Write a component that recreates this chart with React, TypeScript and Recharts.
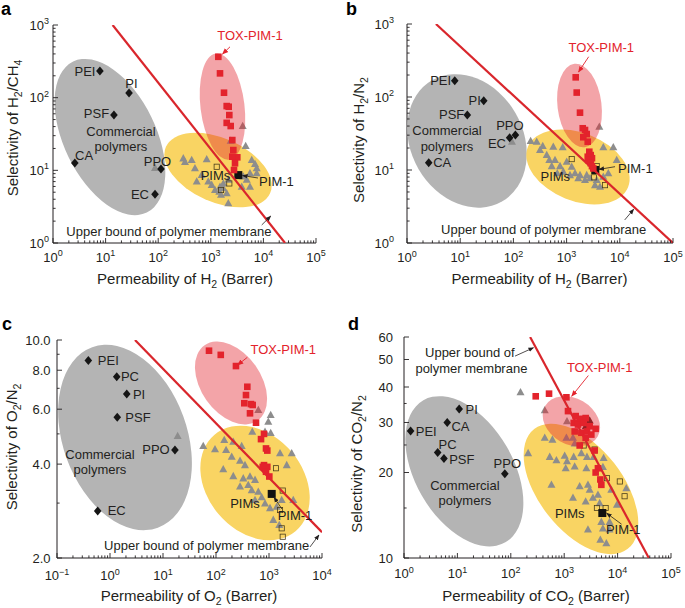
import React from 'react';
import { ScatterChart, Scatter, XAxis, YAxis } from 'recharts';

const INK = '#231f20';
const RED = '#e3232c';
const LINE_RED = '#d9262c';
const TRI_GRAY = '#8d8d8d';
const GRAY_FILL = '#b4b4b4';
const YELLOW_FILL = '#f9d463';
const PINK_FILL = 'rgba(227,35,44,0.41)';
const FONT = '"Liberation Sans", Arial, Helvetica, sans-serif';

type XY = [number, number];
type Lbl = [number, number, string];

// ---------- panel a : H2/CH4 ----------
const A_RED: XY[] = [[1390, 365], [1496, 216], [1783, 117], [2005, 76.6], [2188, 75], [2249, 57.6], [2005, 45], [2390, 40.7], [2564, 26.1], [2680, 19], [3190, 15.1], [2564, 15.4], [2885, 12.5], [2760, 10.1]];
const A_TRI: XY[] = [[4040, 40.7], [4600, 21.6], [2390, 25.5], [300, 14.6], [433, 13.9], [836, 14.2], [500, 10.7], [671, 8.6], [540, 7.0], [896, 7.0], [1040, 6.3], [1496, 5.95], [1202, 5.36], [1730, 5.65], [1450, 5.08], [2005, 4.83], [2150, 3.52], [6000, 13.9], [6920, 12.2], [7460, 10.7], [5560, 9.1], [7460, 9.1], [4820, 7.4], [5560, 5.95], [4150, 8.2], [3870, 5.95], [2150, 7.4], [1730, 6.6], [1563, 4.6], [323, 13.0], [87, 10.8]];
const A_OPEN: XY[] = [[1295, 11.2], [2250, 6.6], [1563, 5.36]];
const A_PIM1: XY[] = [[3335, 8.6]];
const A_DIAMOND: XY[] = [[7.8, 232], [27.9, 116], [14.4, 57.6], [2.6, 12.6], [113, 10.4], [87, 4.7]];
const A_LABELS: Lbl[] = [[4.06, 232, 'PEI'], [31, 159, 'PI'], [6.7, 61.4, 'PSF'], [3.9, 16.2, 'CA'], [97, 13.4, 'PPO'], [45, 4.65, 'EC'], [19.6, 34.2, 'Commercial'], [19.6, 21.2, 'polymers'], [1228, 8.6, 'PIMs'], [17700, 7.0, 'PIM-1'], [160, 1.44, 'Upper bound of polymer membrane']];
const A_RED_LABELS: Lbl[] = [[5560, 726, 'TOX-PIM-1']];
const A_BOUND: XY[] = [[13.6, 1000], [25800, 1]];
const A_ARROW_TOX: XY[] = [[2318, 501], [1668, 398]];
const A_ARROWS: XY[][] = [[[7890, 7.84], [4010, 8.48]], [[9290, 1.77], [13770, 2.35]]];
const A_GRAY_C: XY = [12.1, 28.7];
const A_YELLOW_C: XY = [1371, 10.1];
const A_PINK_C: XY = [1668, 75.5];

// ---------- panel b : H2/N2 ----------
const B_RED: XY[] = [[1483, 186], [1549, 115], [1786, 61], [2009, 37.3], [2218, 35.3], [2388, 31.1], [2061, 28.1], [2494, 24.4], [2672, 17.8], [2840, 16], [2494, 15.2], [3000, 14.5], [2558, 13.7], [2840, 12.4], [3000, 11.3], [3177, 10.5]];
const B_TRI: XY[] = [[211, 25], [274, 24.4], [356, 21.3], [316, 18.8], [423, 16], [562, 20.8], [845, 20.5], [473, 13.7], [605, 13.7], [525, 11.3], [752, 11.3], [1005, 13], [1248, 11.1], [867, 9.5], [1439, 9], [1786, 8.5], [2388, 8.5], [1660, 7.7], [2218, 7.3], [2754, 7.7], [3681, 7.3], [3420, 6.2], [4120, 39.2], [4900, 20.5], [7550, 20.5], [8750, 13.7], [6080, 9], [4900, 8.1], [4245, 5.9], [668, 9], [1158, 8.5], [94, 24.4]];
const B_OPEN: XY[] = [[1248, 14.1], [3681, 11.3], [5270, 6.2], [3273, 7.94]];
const B_PIM1: XY[] = [[3460, 10]];
const B_DIAMOND: XY[] = [[7.9, 167], [27.7, 89], [13.6, 56.7], [2.56, 12.6], [109, 30.2], [85, 27.7]];
const B_LABELS: Lbl[] = [[4.3, 167, 'PEI'], [18.7, 89, 'PI'], [6.9, 56.7, 'PSF'], [4.6, 12.5, 'CA'], [86, 41.3, 'PPO'], [49, 23.2, 'EC'], [5.65, 34.5, 'Commercial'], [5.65, 21.3, 'polymers'], [613, 8.1, 'PIMs'], [19600, 10.6, 'PIM-1'], [371, 1.54, 'Upper bound of polymer membrane']];
const B_RED_LABELS: Lbl[] = [[4490, 473, 'TOX-PIM-1']];
const B_BOUND: XY[] = [[3.5, 1000], [100000, 1]];
const B_ARROW_TOX: XY[] = [[2600, 356], [1675, 220]];
const B_ARROWS: XY[][] = [[[8130, 11.1], [4065, 10.2]], [[12370, 2.07], [18240, 2.9]]];
const B_GRAY_C: XY = [13.4, 25];
const B_YELLOW_C: XY = [1637, 11.0];
const B_PINK_C: XY = [1748, 76.5];

// ---------- panel c : O2/N2 ----------
const C_RED: XY[] = [[73.8, 9.24], [123, 8.96], [238, 8.25], [390, 7.08], [368, 6.66], [342, 6.27], [457, 6.23], [492, 6.19], [438, 5.82], [569, 5.43], [805, 5.0], [707, 4.81], [878, 4.49], [929, 4.42], [805, 3.97], [760, 3.92], [929, 3.92], [878, 3.78], [1014, 3.65]];
const C_TRI: XY[] = [[628, 5.96], [1076, 5.75], [970, 5.47], [484, 5.08], [841, 5.08], [57.5, 4.57], [95.7, 4.46], [143, 4.78], [212, 4.72], [305, 4.57], [155, 4.44], [198, 4.22], [284, 4.1], [352, 3.97], [137, 3.85], [212, 3.66], [327, 3.6], [438, 3.65], [545, 3.56], [406, 3.43], [284, 3.39], [472, 3.3], [628, 3.26], [728, 3.13], [545, 3.07], [841, 2.99], [1045, 2.89], [1397, 2.92], [1737, 3.07], [2680, 4.33], [1614, 4.33], [2160, 3.97], [2871, 3.07], [1205, 2.65], [1563, 2.55], [1076, 5.03], [18.9, 4.92]];
const C_OPEN: XY[] = [[1355, 3.88], [1815, 3.29], [1614, 2.85], [1737, 2.49], [1815, 2.34]];
const C_PIM1: XY[] = [[1125, 3.21]];
const C_DIAMOND: XY[] = [[0.39, 8.6], [1.34, 7.62], [2.07, 6.71], [1.37, 5.65], [16.8, 4.44], [0.586, 2.83]];
const C_LABELS: Lbl[] = [[0.93, 8.6, 'PEI'], [2.38, 7.62, 'PC'], [3.53, 6.71, 'PI'], [3.37, 5.65, 'PSF'], [7.38, 4.44, 'PPO'], [1.34, 2.83, 'EC'], [0.647, 4.28, 'Commercial'], [0.647, 3.83, 'polymers'], [352, 2.98, 'PIMs'], [3097, 2.73, 'PIM-1'], [66.8, 2.19, 'Upper bound of polymer membrane']];
const C_RED_LABELS: Lbl[] = [[1862, 9.29, 'TOX-PIM-1']];
const C_BOUND: XY[] = [[2.96, 10], [10000, 2.42]];
const C_ARROW_TOX: XY[] = [[390, 8.8], [255, 8.31]];
const C_ARROWS: XY[][] = [[[1758, 2.87], [1242, 3.13]], [[5940, 2.17], [8770, 2.37]]];
const C_GRAY_C: XY = [1.92, 4.87];
const C_YELLOW_C: XY = [545, 3.48];
const C_PINK_C: XY = [192, 7.28];
const C_Y_MAJOR = [2, 4, 6, 8, 10];
const C_Y_LABELS = ['2.0', '4.0', '6.0', '8.0', '10.0'];
const C_Y_MINOR = [3, 5, 7, 9];

// ---------- panel d : CO2/N2 ----------
const D_RED: XY[] = [[293, 37.1], [520, 37.9], [1100, 36.8], [1178, 32.9], [1640, 31.6], [1950, 30.9], [2524, 31.1], [1506, 29.9], [1811, 29.5], [2314, 29.9], [2999, 29.1], [3880, 28.5], [1571, 27.9], [2096, 27.6], [2669, 27.9], [3223, 27.2], [2524, 26.5], [1950, 24.9], [3715, 23.9], [4285, 20.7], [3880, 20], [4750, 18.9], [4960, 18.1]];
const D_TRI: XY[] = [[152, 38.3], [432, 33.1], [1128, 30.3], [432, 26.5], [602, 26.1], [1100, 26.5], [1460, 26.5], [1571, 25.3], [211, 23.4], [536, 22.7], [715, 22.1], [1021, 22.9], [1128, 21.9], [1506, 22.7], [2096, 23.4], [2669, 22.7], [3556, 22.7], [5470, 22.5], [1067, 20.7], [1571, 21], [2600, 20.7], [5310, 20.9], [577, 18.1], [1950, 17.9], [2786, 18.1], [2999, 17.4], [4285, 16.7], [3453, 16.3], [1460, 16.3], [2524, 15.8], [4610, 15.6], [9700, 15.4], [14550, 17.6], [7620, 17.4], [2786, 12.6], [4960, 13.4], [5310, 12.7], [7080, 12.6], [4750, 11.6], [6150, 11.27], [7080, 13.4]];
const D_DARK: XY[] = [[2999, 30.5], [2524, 29.1]];
const D_OPEN: XY[] = [[2314, 24.9], [3715, 24.1], [6310, 19.1], [11000, 18.6], [13520, 16.5], [4100, 15], [5970, 15]];
const D_PIM1: XY[] = [[5175, 14.4]];
const D_DIAMOND: XY[] = [[1.33, 28], [10.8, 33.5], [6.45, 30], [4.27, 23.5], [5.6, 22.4], [77.3, 19.8]];
const D_LABELS: Lbl[] = [[2.61, 28, 'PEI'], [18.5, 33.2, 'PI'], [11.4, 29.1, 'CA'], [6.56, 25, 'PC'], [12.1, 22.3, 'PSF'], [86, 21.5, 'PPO'], [13.8, 18, 'Commercial'], [13.8, 15.9, 'polymers'], [1267, 14.4, 'PIMs'], [12770, 12.56, 'PIM-1'], [17.1, 52.8, 'Upper bound of'], [18.3, 46.5, 'polymer membrane']];
const D_RED_LABELS: Lbl[] = [[4610, 46.9, 'TOX-PIM-1']];
const D_BOUND: XY[] = [[230, 60], [38460, 10]];
const D_ARROW_TOX: XY[] = [[2834, 43.9], [1380, 37.1]];
const D_ARROWS: XY[][] = [[[11880, 13.15], [6225, 14.38]], [[120, 51.4], [266, 55]]];
const D_GRAY_C: XY = [13.5, 20.2];
const D_YELLOW_C: XY = [2061, 17.5];
const D_PINK_C: XY = [1364, 30.3];
const D_Y_MAJOR = [10, 20, 30, 40, 50, 60];
const D_Y_MINOR = [15, 25, 35];

const POW_MAJOR_X = [1, 10, 100, 1000, 10000, 100000];
const POW_MAJOR_X_C = [0.1, 1, 10, 100, 1000, 10000];
const POW_MAJOR_Y = [1, 10, 100, 1000];

const minorTicks = (lo: number, hi: number) => {
  const out: number[] = [];
  for (let e = lo; e < hi; e++) for (let k = 2; k <= 9; k++) out.push(k * Math.pow(10, e));
  return out;
};

const pts = (a: XY[]) => a.map(([x, y]) => ({ x, y }));
const lbls = (a: Lbl[]) => a.map(([x, y, text]) => ({ x, y, text }));

const pow10 = (v: number) => {
  const e = Math.round(Math.log10(v));
  return (
    <>
      <tspan>10</tspan>
      <tspan dy={-5.5} fontSize={9}>{e < 0 ? `\u2212${-e}` : `${e}`}</tspan>
    </>
  );
};

// marker shapes
const redSquare = (s: any) => <rect x={s.cx - 3.3} y={s.cy - 3.3} width={6.6} height={6.6} fill={RED} />;
const grayTri = (s: any) => <polygon points={`${s.cx},${s.cy - 4.3} ${s.cx + 4},${s.cy + 3} ${s.cx - 4},${s.cy + 3}`} fill={TRI_GRAY} />;
const darkTri = (s: any) => <polygon points={`${s.cx},${s.cy - 4.3} ${s.cx + 4},${s.cy + 3} ${s.cx - 4},${s.cy + 3}`} fill="#5a2020" />;
const openSquare = (s: any) => <rect x={s.cx - 2.6} y={s.cy - 2.6} width={5.2} height={5.2} fill="none" stroke="#4a3e1c" strokeWidth={0.8} />;
const blackSquare = (s: any) => <rect x={s.cx - 4} y={s.cy - 4} width={8} height={8} fill="#111" />;
const diamond = (s: any) => <polygon points={`${s.cx},${s.cy - 4.5} ${s.cx + 3.8},${s.cy} ${s.cx},${s.cy + 4.5} ${s.cx - 3.8},${s.cy}`} fill="#151515" />;
const nothing = () => <g />;

const textShape = (color: string, size: number) => (s: any) => (
  <text x={s.cx} y={s.cy} textAnchor="middle" dominantBaseline="central" fontSize={size} fontFamily={FONT} fill={color}>
    {s.payload?.text ?? s.text}
  </text>
);

type Ell = { rx: number; ry: number; rot: number };
const ellipseShape = (e: Ell, fill: string, defs?: React.ReactNode) => (s: any) => (
  <g>
    {defs}
    <ellipse cx={s.cx} cy={s.cy} rx={e.rx} ry={e.ry} transform={`rotate(${e.rot} ${s.cx} ${s.cy})`} fill={fill} />
  </g>
);

const Sub = ({ children }: { children: React.ReactNode }) => (
  <span style={{ fontSize: '0.7em', position: 'relative', top: '0.35em' }}>{children}</span>
);

interface PanelCfg {
  id: string;
  left: number; top: number; w: number; h: number;
  plot: { left: number; top: number; right: number; bottom: number };
  xDomain: [number, number]; yDomain: [number, number];
  xMajor: number[]; xMinor: number[]; yMajor: number[]; yMinor: number[];
  xFmt: (v: number) => React.ReactNode; yFmt: (v: number) => React.ReactNode;
  xGap: number; yGap: number;
  red: XY[]; tri: XY[]; dark?: XY[]; open: XY[]; pim1: XY[]; diamonds: XY[];
  labels: Lbl[]; redLabels: Lbl[];
  bound: XY[]; toxArrow: XY[]; arrows: XY[][];
  grayC: XY; yellowC: XY; pinkC: XY;
  gray: Ell; yellow: Ell; pink: Ell;
  xTitle: React.ReactNode; yTitle: React.ReactNode;
  xTitlePos: XY; yTitlePos: XY; letterPos: XY;
}

const MAJ = 5;
const MIN = 2.6;

function Panel(p: PanelCfg) {
  const { w, h, plot } = p;
  const xTicks = [...p.xMajor, ...p.xMinor];
  const yTicks = [...p.yMajor, ...p.yMinor];
  const isMX = (v: number) => p.xMajor.includes(v);
  const isMY = (v: number) => p.yMajor.includes(v);

  const bottomTick = (t: any) => {
    const m = isMX(t.payload.value);
    return (
      <g>
        <line x1={t.x} x2={t.x} y1={t.y} y2={t.y - (m ? MAJ : MIN)} stroke={INK} strokeWidth={0.9} />
        {m && (
          <text x={t.x} y={t.y + p.xGap} textAnchor="middle" fontSize={13} fontFamily={FONT} fill={INK}>
            {p.xFmt(t.payload.value)}
          </text>
        )}
      </g>
    );
  };
  const topTick = (t: any) => {
    const m = isMX(t.payload.value);
    return <line x1={t.x} x2={t.x} y1={t.y} y2={t.y + (m ? MAJ : MIN)} stroke={INK} strokeWidth={0.9} />;
  };
  const leftTick = (t: any) => {
    const m = isMY(t.payload.value);
    return (
      <g>
        <line x1={t.x} x2={t.x + (m ? MAJ : MIN)} y1={t.y} y2={t.y} stroke={INK} strokeWidth={0.9} />
        {m && (
          <text x={t.x - p.yGap} y={t.y + 4.6} textAnchor="end" fontSize={13} fontFamily={FONT} fill={INK}>
            {p.yFmt(t.payload.value)}
          </text>
        )}
      </g>
    );
  };
  const rightTick = (t: any) => {
    const m = isMY(t.payload.value);
    return <line x1={t.x} x2={t.x - (m ? MAJ : MIN)} y1={t.y} y2={t.y} stroke={INK} strokeWidth={0.9} />;
  };

  const defs = (
    <defs>
      <marker id={`arr-ink-${p.id}`} viewBox="0 0 10 10" refX="9" refY="5" markerWidth="7" markerHeight="7" orient="auto">
        <path d="M0,1 L10,5 L0,9 z" fill={INK} />
      </marker>
      <marker id={`arr-red-${p.id}`} viewBox="0 0 10 10" refX="9" refY="5" markerWidth="7" markerHeight="7" orient="auto">
        <path d="M0,1 L10,5 L0,9 z" fill={RED} />
      </marker>
    </defs>
  );

  const axisLine = { stroke: INK, strokeWidth: 1 };
  const common = { type: 'number' as const, scale: 'log' as const, allowDataOverflow: true, interval: 0, tickLine: false, tickSize: 0, tickMargin: 0, axisLine };

  return (
    <div style={{ position: 'absolute', left: p.left, top: p.top, width: w, height: h }}>
      <ScatterChart width={w} height={h} margin={{ top: plot.top, right: w - plot.right, bottom: 0, left: 0 }}>
        <XAxis xAxisId={0} dataKey="x" domain={p.xDomain} ticks={xTicks} height={h - plot.bottom} tick={bottomTick} {...common} />
        <XAxis xAxisId="top" orientation="top" dataKey="x" domain={p.xDomain} ticks={xTicks} height={0} tick={topTick} {...common} />
        <YAxis yAxisId={0} dataKey="y" domain={p.yDomain} ticks={yTicks} width={plot.left} tick={leftTick} {...common} />
        <YAxis yAxisId="right" orientation="right" dataKey="y" domain={p.yDomain} ticks={yTicks} width={0} tick={rightTick} {...common} />

        <Scatter data={pts([p.grayC])} shape={ellipseShape(p.gray, GRAY_FILL, defs)} isAnimationActive={false} />
        <Scatter data={pts([p.yellowC])} shape={ellipseShape(p.yellow, YELLOW_FILL)} isAnimationActive={false} />
        <Scatter data={pts(p.tri)} shape={grayTri} isAnimationActive={false} />
        {p.dark && <Scatter data={pts(p.dark)} shape={darkTri} isAnimationActive={false} />}
        <Scatter data={pts(p.open)} shape={openSquare} isAnimationActive={false} />
        <Scatter data={pts(p.diamonds)} shape={diamond} isAnimationActive={false} />
        <Scatter data={pts(p.pim1)} shape={blackSquare} isAnimationActive={false} />
        <Scatter data={pts([p.pinkC])} shape={ellipseShape(p.pink, PINK_FILL)} isAnimationActive={false} />
        <Scatter data={pts(p.bound)} shape={nothing} line={{ stroke: LINE_RED, strokeWidth: 2.2 }} isAnimationActive={false} />
        <Scatter data={pts(p.red)} shape={redSquare} isAnimationActive={false} />
        <Scatter data={pts(p.toxArrow)} shape={nothing} line={{ stroke: RED, strokeWidth: 0.9, markerEnd: `url(#arr-red-${p.id})` }} isAnimationActive={false} />
        {p.arrows.map((a, i) => (
          <Scatter key={i} data={pts(a)} shape={nothing} line={{ stroke: INK, strokeWidth: 0.8, markerEnd: `url(#arr-ink-${p.id})` }} isAnimationActive={false} />
        ))}
        <Scatter data={lbls(p.labels)} shape={textShape(INK, 13)} isAnimationActive={false} />
        <Scatter data={lbls(p.redLabels)} shape={textShape(RED, 13)} isAnimationActive={false} />
      </ScatterChart>

      <div style={{ position: 'absolute', left: p.letterPos[0], top: p.letterPos[1], fontFamily: FONT, fontWeight: 700, fontSize: 18, lineHeight: '18px', color: '#000' }}>
        {p.id}
      </div>
      <div style={{ position: 'absolute', left: p.xTitlePos[0], top: p.xTitlePos[1], transform: 'translate(-50%, -50%)', whiteSpace: 'nowrap', fontFamily: FONT, fontSize: 15, lineHeight: '15px', color: INK }}>
        {p.xTitle}
      </div>
      <div style={{ position: 'absolute', left: p.yTitlePos[0], top: p.yTitlePos[1], transform: 'translate(-50%, -50%) rotate(-90deg)', whiteSpace: 'nowrap', fontFamily: FONT, fontSize: 15, lineHeight: '15px', color: INK }}>
        {p.yTitle}
      </div>
    </div>
  );
}

const PANELS: PanelCfg[] = [
  {
    id: 'a', left: 0, top: 0, w: 342, h: 300,
    plot: { left: 53, top: 25, right: 316, bottom: 243 },
    xDomain: [1, 1e5], yDomain: [1, 1e3],
    xMajor: POW_MAJOR_X, xMinor: minorTicks(0, 5), yMajor: POW_MAJOR_Y, yMinor: minorTicks(0, 3),
    xFmt: pow10, yFmt: pow10, xGap: 18.6, yGap: 4,
    red: A_RED, tri: A_TRI, open: A_OPEN, pim1: A_PIM1, diamonds: A_DIAMOND,
    labels: A_LABELS, redLabels: A_RED_LABELS, bound: A_BOUND, toxArrow: A_ARROW_TOX, arrows: A_ARROWS,
    grayC: A_GRAY_C, yellowC: A_YELLOW_C, pinkC: A_PINK_C,
    gray: { rx: 84, ry: 46, rot: 64 }, yellow: { rx: 57, ry: 32, rot: 24 }, pink: { rx: 53.5, ry: 22, rot: 83 },
    xTitle: <>Permeability of H<Sub>2</Sub> (Barrer)</>,
    yTitle: <>Selectivity of H<Sub>2</Sub>/CH<Sub>4</Sub></>,
    xTitlePos: [185, 279], yTitlePos: [13, 128], letterPos: [1, 0],
  },
  {
    id: 'b', left: 342, top: 0, w: 343, h: 300,
    plot: { left: 65, top: 24, right: 331, bottom: 243 },
    xDomain: [1, 1e5], yDomain: [1, 1e3],
    xMajor: POW_MAJOR_X, xMinor: minorTicks(0, 5), yMajor: POW_MAJOR_Y, yMinor: minorTicks(0, 3),
    xFmt: pow10, yFmt: pow10, xGap: 19, yGap: 13,
    red: B_RED, tri: B_TRI, open: B_OPEN, pim1: B_PIM1, diamonds: B_DIAMOND,
    labels: B_LABELS, redLabels: B_RED_LABELS, bound: B_BOUND, toxArrow: B_ARROW_TOX, arrows: B_ARROWS,
    grayC: B_GRAY_C, yellowC: B_YELLOW_C, pinkC: B_PINK_C,
    gray: { rx: 70, ry: 56, rot: 60 }, yellow: { rx: 54, ry: 34, rot: 22 }, pink: { rx: 42, ry: 22, rot: 83 },
    xTitle: <>Permeability of H<Sub>2</Sub> (Barrer)</>,
    yTitle: <>Selectivity of H<Sub>2</Sub>/N<Sub>2</Sub></>,
    xTitlePos: [197.5, 279], yTitlePos: [16.5, 140], letterPos: [4, 0],
  },
  {
    id: 'c', left: 0, top: 300, w: 342, h: 308,
    plot: { left: 57, top: 40, right: 322, bottom: 258 },
    xDomain: [0.1, 1e4], yDomain: [2, 10],
    xMajor: POW_MAJOR_X_C, xMinor: minorTicks(-1, 4), yMajor: C_Y_MAJOR, yMinor: C_Y_MINOR,
    xFmt: pow10, yFmt: (v: number) => C_Y_LABELS[C_Y_MAJOR.indexOf(v)], xGap: 22, yGap: 6.5,
    red: C_RED, tri: C_TRI, open: C_OPEN, pim1: C_PIM1, diamonds: C_DIAMOND,
    labels: C_LABELS, redLabels: C_RED_LABELS, bound: C_BOUND, toxArrow: C_ARROW_TOX, arrows: C_ARROWS,
    grayC: C_GRAY_C, yellowC: C_YELLOW_C, pinkC: C_PINK_C,
    gray: { rx: 96, ry: 62, rot: 70 }, yellow: { rx: 63, ry: 48, rot: 50 }, pink: { rx: 46, ry: 30, rot: 55 },
    xTitle: <>Permeability of O<Sub>2</Sub> (Barrer)</>,
    yTitle: <>Selectivity of O<Sub>2</Sub>/N<Sub>2</Sub></>,
    xTitlePos: [189, 296], yTitlePos: [12, 147], letterPos: [2, 15],
  },
  {
    id: 'd', left: 342, top: 300, w: 343, h: 308,
    plot: { left: 62, top: 37, right: 329, bottom: 258 },
    xDomain: [1, 1e5], yDomain: [10, 60],
    xMajor: POW_MAJOR_X, xMinor: minorTicks(0, 5), yMajor: D_Y_MAJOR, yMinor: D_Y_MINOR,
    xFmt: pow10, yFmt: (v: number) => `${v}`, xGap: 20, yGap: 11,
    red: D_RED, tri: D_TRI, dark: D_DARK, open: D_OPEN, pim1: D_PIM1, diamonds: D_DIAMOND,
    labels: D_LABELS, redLabels: D_RED_LABELS, bound: D_BOUND, toxArrow: D_ARROW_TOX, arrows: D_ARROWS,
    grayC: D_GRAY_C, yellowC: D_YELLOW_C, pinkC: D_PINK_C,
    gray: { rx: 82, ry: 49, rot: 60 }, yellow: { rx: 76, ry: 42, rot: 52 }, pink: { rx: 30.4, ry: 23, rot: 30 },
    xTitle: <>Permeability of CO<Sub>2</Sub> (Barrer)</>,
    yTitle: <>Selectivity of CO<Sub>2</Sub>/N<Sub>2</Sub></>,
    xTitlePos: [194, 296], yTitlePos: [15, 164], letterPos: [6, 15],
  },
];

export default function App() {
  return (
    <div style={{ position: 'absolute', left: 0, top: 0, width: 685, height: 608, background: '#fff' }}>
      {PANELS.map((p) => (
        <Panel key={p.id} {...p} />
      ))}
    </div>
  );
}
